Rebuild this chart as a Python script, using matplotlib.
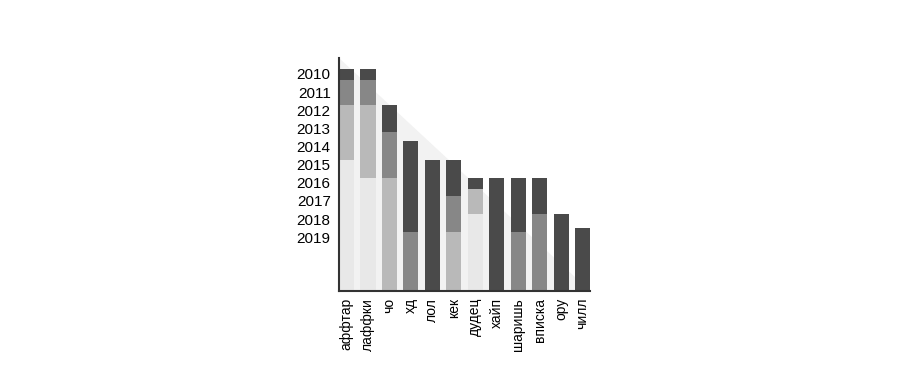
import numpy as np
import matplotlib
matplotlib.use("Agg")
import matplotlib.pyplot as plt
from matplotlib.patches import Polygon

plt.rcParams["font.family"] = ["Liberation Sans", "DejaVu Sans"]

words = ["аффтар", "лаффки", "чо", "хд", "лол", "кек",
         "дудец", "хайп", "шаришь", "вписка", "ору", "чилл"]
years = list(range(2010, 2020))
NOW = 2022.25
nan = np.nan

# year when each word entered a phase (nan = phase skipped)
dark_start = [2010, 2010, 2012, 2014, 2015, 2015, 2016, 2016, 2016, 2016, 2018, 2018.75]
mid_start = [2010.6, 2010.6, 2013.5, 2019, nan, 2017, nan, nan, 2019, 2018, nan, nan]
light_start = [2012, 2012, 2016, nan, nan, 2019, 2016.6, nan, nan, nan, nan, nan]
faded_start = [2015, 2016, nan, nan, nan, nan, 2018, nan, nan, nan, nan, nan]

colors = ["#4a4a4a", "#878787", "#b9b9b9", "#e8e8e8"]

fig = plt.figure(figsize=(9, 3.89), dpi=100)
ax = fig.add_axes([0.3767, 0.2519, 0.2789, 0.599])

# light diagonal shading behind the bars
ax.add_patch(Polygon([(0, 1), (1, 0), (0, 0)], closed=True,
                     transform=ax.transAxes, facecolor="#f2f2f2",
                     edgecolor="none", zorder=0))

x = np.arange(len(words))
stages = np.array([dark_start, mid_start, light_start, faded_start], dtype=float)
for i in range(len(words)):
    starts = [(stages[k, i], k) for k in range(4) if not np.isnan(stages[k, i])]
    for j, (s, k) in enumerate(starts):
        e = starts[j + 1][0] if j + 1 < len(starts) else NOW
        ax.bar(x[i], e - s, bottom=s, width=0.7, color=colors[k], zorder=2)

ax.set_xlim(-0.35, len(words) - 1 + 0.35)
ax.set_ylim(NOW, 2009.4)
ax.set_xticks(x)
ax.set_xticklabels(words, rotation=90, fontsize=10)
ax.set_yticks([y + 0.28 for y in years])
ax.set_yticklabels([str(y) for y in years], fontsize=11)
ax.tick_params(length=0)
ax.tick_params(axis="y", pad=6)
ax.tick_params(axis="x", pad=5)
for s in ["top", "right"]:
    ax.spines[s].set_visible(False)
for s in ["left", "bottom"]:
    ax.spines[s].set_color("#333333")
    ax.spines[s].set_linewidth(1.5)

fig.savefig("out.png", dpi=100)
